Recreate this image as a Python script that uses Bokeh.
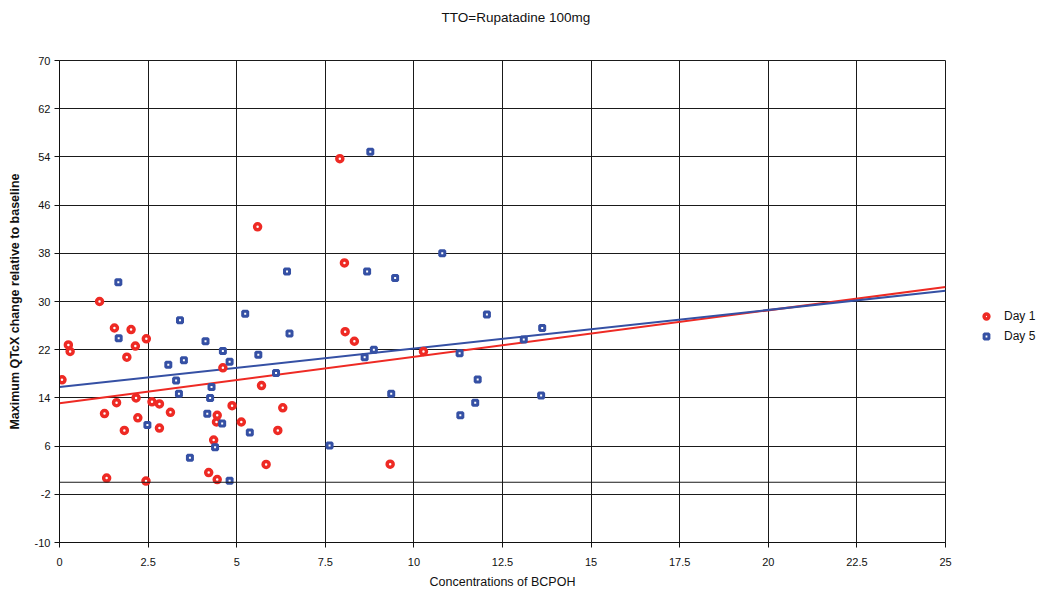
from bokeh.plotting import figure
from bokeh.models import (Range1d, FixedTicker, Legend, LegendItem, Span)
from bokeh.embed import file_html
from bokeh.resources import INLINE

# ---- data ----
day1_x = [0.07, 0.25, 0.30, 1.13, 1.27, 1.33, 1.55, 1.61, 1.83, 1.90, 2.02, 2.14, 2.16, 2.21,
          2.44, 2.45, 2.61, 2.82, 2.82, 3.13, 4.21, 4.35, 4.43, 4.45, 4.45, 4.61, 4.87, 5.13,
          5.59, 5.70, 5.83, 6.16, 6.30, 7.91, 8.04, 8.06, 8.32, 9.33, 10.27]
day1_y = [17.0, 22.8, 21.7, 30.0, 11.4, 0.7, 25.6, 13.2, 8.6, 20.75, 25.35, 22.6, 14.0, 10.7,
          0.2, 23.8, 13.35, 13.0, 9.0, 11.6, 1.6, 7.0, 10.0, 11.1, 0.45, 19.0, 12.7, 10.0,
          42.4, 16.05, 2.95, 8.6, 12.35, 53.7, 36.4, 25.0, 23.4, 3.0, 21.7]
day5_x = [1.66, 1.67, 2.48, 3.07, 3.29, 3.37, 3.40, 3.51, 3.68, 4.12, 4.17, 4.25, 4.29, 4.39,
          4.59, 4.61, 4.80, 4.80, 5.24, 5.37, 5.61, 6.11, 6.42, 6.49, 7.62, 8.61, 8.68, 8.77,
          8.87, 9.36, 9.47, 10.80, 11.29, 11.31, 11.73, 11.80, 12.06, 13.10, 13.59, 13.62]
day5_y = [33.2, 23.9, 9.5, 19.5, 16.9, 14.7, 26.9, 20.25, 4.05, 23.4, 11.35, 14.0, 15.8, 5.8,
          9.75, 21.8, 20.0, 0.25, 27.95, 8.25, 21.15, 18.15, 35.0, 24.7, 6.1, 20.75, 35.0, 54.85,
          22.0, 14.7, 33.9, 38.0, 21.4, 11.1, 13.2, 17.05, 27.85, 23.7, 14.4, 25.6]
trend_x = [0, 25]
day1_trend = [13.1, 32.4]
day5_trend = [15.8, 31.8]
x_ticks = [0, 2.5, 5, 7.5, 10, 12.5, 15, 17.5, 20, 22.5, 25]
y_ticks = [-10, -2, 6, 14, 22, 30, 38, 46, 54, 62, 70]
series_names = ["Day 1", "Day 5"]
title_text = "TTO=Rupatadine 100mg"

RED = "#ee2a24"
BLUE = "#3550a4"
FONT = "Liberation Sans"

p = figure(frame_width=886, frame_height=482, output_backend="svg", toolbar_location=None,
           x_range=Range1d(0, 25), y_range=Range1d(-10, 70),
           min_border_left=59, min_border_top=60, min_border_right=96, min_border_bottom=48)
# trailing blank lines lift the single visible title line higher above the frame
p.title.text = title_text + "\n\n"
p.title.align = "left"
p.title.text_font = FONT
p.title.text_font_size = "13.5px"
p.title.text_font_style = "normal"
p.title.text_color = "#111111"
p.title.offset = 382
p.title.standoff = 12

p.xaxis.ticker = FixedTicker(ticks=x_ticks)
p.yaxis.ticker = FixedTicker(ticks=y_ticks)
p.xaxis.major_label_overrides = {t: f"{t:g}" for t in x_ticks}
p.yaxis.major_label_overrides = {t: f"{t:g}" for t in y_ticks}
p.xaxis.minor_tick_line_color = None
p.yaxis.minor_tick_line_color = None
for ax in (p.xaxis, p.yaxis):
    ax.axis_line_color = "#111111"
    ax.major_tick_line_color = "#111111"
    ax.major_tick_out = 5
    ax.major_tick_in = 0
    ax.major_label_text_font = FONT
    ax.major_label_text_font_size = "11px"
    ax.major_label_text_color = "#111111"
    ax.axis_label_text_font = FONT
    ax.axis_label_text_color = "#111111"
p.xaxis.axis_label = "Concentrations of BCPOH"
p.xaxis.axis_label_text_font_size = "12.5px"
p.xaxis.axis_label_text_font_style = "normal"
p.xaxis.axis_label_standoff = 6
p.xaxis.major_label_standoff = 10
p.yaxis.axis_label = "Maximum QTcX change relative to baseline"
p.yaxis.axis_label_text_font_size = "12.5px"
p.yaxis.axis_label_text_font_style = "bold"
p.yaxis.axis_label_standoff = 10
p.yaxis.major_label_standoff = 4

p.xgrid.grid_line_color = "#1a1a1a"
p.ygrid.grid_line_color = "#1a1a1a"
p.xgrid.grid_line_alpha = 1
p.ygrid.grid_line_alpha = 1
p.outline_line_color = "#1a1a1a"
p.outline_line_alpha = 1

p.add_layout(Span(location=0, dimension="width", line_color="#1a1a1a", line_width=1))

p.line(trend_x, day1_trend, line_color=RED, line_width=2)
p.line(trend_x, day5_trend, line_color=BLUE, line_width=2)
r1 = p.scatter(day1_x, day1_y, marker="circle", size=6, line_color=RED, line_width=3.5,
               fill_color="white")
r5 = p.scatter(day5_x, day5_y, marker="square", size=5, line_color=BLUE, line_width=3,
               fill_color="white")

legend = Legend(items=[LegendItem(label=series_names[0], renderers=[r1]),
                       LegendItem(label=series_names[1], renderers=[r5])],
                location=(35, 196), padding=0, margin=0, spacing=0,
                glyph_width=12, glyph_height=12, label_height=20, label_standoff=12,
                label_text_font=FONT, label_text_font_size="12px", label_text_color="#111111",
                border_line_color=None, background_fill_alpha=0)
p.add_layout(legend, "right")

open("out.html", "w").write(file_html(p, INLINE))
